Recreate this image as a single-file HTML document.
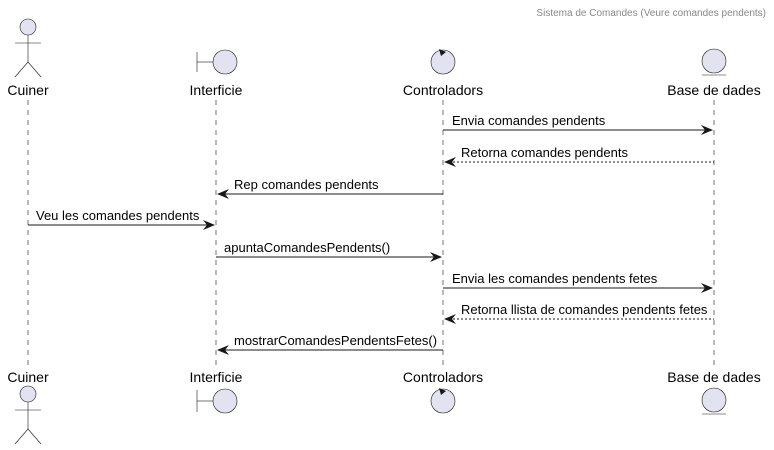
<!DOCTYPE html>
<html><head><style>body{margin:0;background:#fff}svg{display:block}</style></head><body>
<svg width="774" height="450" xmlns="http://www.w3.org/2000/svg" font-family="Liberation Sans, sans-serif">
<text x="766" y="16" font-size="10" fill="#888" text-anchor="end">Sistema de Comandes (Veure comandes pendents)</text>
<g stroke="#181818" stroke-width="0.6" stroke-dasharray="5,5">
<line x1="28" y1="100" x2="28" y2="366"/><line x1="216" y1="100" x2="216" y2="366"/><line x1="443" y1="100" x2="443" y2="366"/><line x1="714" y1="100" x2="714" y2="366"/>
</g>
<g fill="#E2E2F0" stroke="#181818" stroke-width="0.6">
<circle cx="28" cy="27" r="8"/><line x1="28" y1="35" x2="28" y2="62"/><line x1="15" y1="43" x2="41" y2="43"/><polyline fill="none" points="15,77 28,62 41,77"/>
<circle cx="225" cy="62" r="12"/><line x1="197" y1="62" x2="213" y2="62"/><line x1="197" y1="52" x2="197" y2="72"/>
<circle cx="443" cy="62" r="12"/>
<circle cx="714" cy="61" r="12"/><line x1="702" y1="75" x2="726" y2="75"/>
<circle cx="28" cy="394" r="8"/><line x1="28" y1="402" x2="28" y2="429"/><line x1="15" y1="410" x2="41" y2="410"/><polyline fill="none" points="15,444 28,429 41,444"/>
<circle cx="225" cy="401" r="12"/><line x1="197" y1="401" x2="213" y2="401"/><line x1="197" y1="390" x2="197" y2="412"/>
<circle cx="443" cy="401" r="12"/>
<circle cx="714" cy="400" r="12"/><line x1="702" y1="414" x2="726" y2="414"/>
</g>
<path d="M446,52 L439,49 L441,56 Z" fill="#181818"/>
<path d="M446,391 L439,388 L441,395 Z" fill="#181818"/>
<g font-size="14" fill="#000" text-anchor="middle">
<text x="28" y="95">Cuiner</text><text x="216" y="95">Interficie</text><text x="443" y="95">Controladors</text><text x="714" y="95">Base de dades</text>
<text x="28" y="382">Cuiner</text><text x="216" y="382">Interficie</text><text x="443" y="382">Controladors</text><text x="714" y="382">Base de dades</text>
</g>
<g stroke="#181818" stroke-width="1" fill="none">
<line x1="443" y1="130" x2="712" y2="130"/>
<line x1="445" y1="162" x2="714" y2="162" stroke-dasharray="2,2"/>
<line x1="218" y1="194" x2="443" y2="194"/>
<line x1="28" y1="225" x2="214" y2="225"/>
<line x1="216" y1="257" x2="441" y2="257"/>
<line x1="443" y1="288" x2="712" y2="288"/>
<line x1="445" y1="319" x2="714" y2="319" stroke-dasharray="2,2"/>
<line x1="218" y1="350" x2="443" y2="350"/>
</g>
<g fill="#181818">
<path d="M713,130 L701,125 L705,130 L701,135Z"/>
<path d="M444,162 L456,157 L452,162 L456,167Z"/>
<path d="M217,194 L229,189 L225,194 L229,199Z"/>
<path d="M215,225 L203,220 L207,225 L203,230Z"/>
<path d="M442,257 L430,252 L434,257 L430,262Z"/>
<path d="M713,288 L701,283 L705,288 L701,293Z"/>
<path d="M444,319 L456,314 L452,319 L456,324Z"/>
<path d="M217,350 L229,345 L225,350 L229,355Z"/>
</g>
<g font-size="13" fill="#000">
<text x="452" y="125">Envia comandes pendents</text>
<text x="461" y="157">Retorna comandes pendents</text>
<text x="234" y="189">Rep comandes pendents</text>
<text x="36" y="220">Veu les comandes pendents</text>
<text x="224" y="252">apuntaComandesPendents()</text>
<text x="452" y="283">Envia les comandes pendents fetes</text>
<text x="461" y="314">Retorna llista de comandes pendents fetes</text>
<text x="234" y="345">mostrarComandesPendentsFetes()</text>
</g>
</svg>
</body></html>
